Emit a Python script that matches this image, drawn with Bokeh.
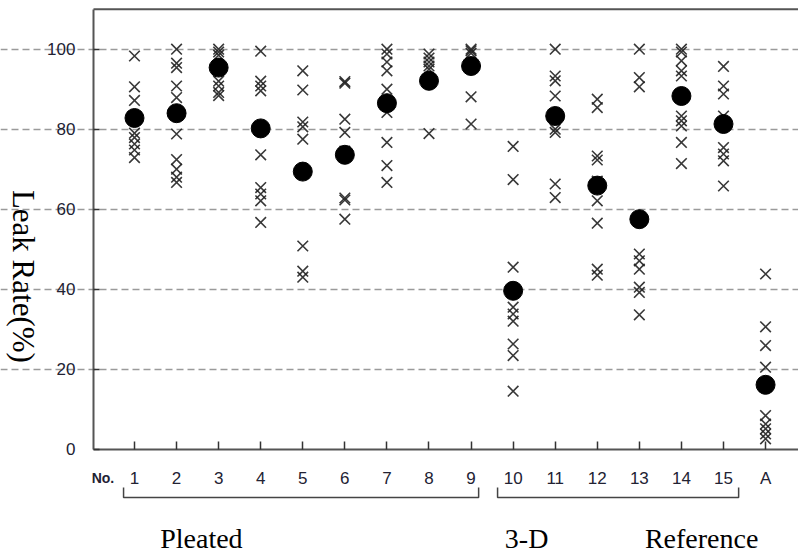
import math
from bokeh.plotting import figure
from bokeh.models import Range1d, LinearAxis, FixedTicker, Grid
from bokeh.core.properties import value
from bokeh.embed import file_html
from bokeh.resources import INLINE

# ---- data ----
tick_labels = ["1", "2", "3", "4", "5", "6", "7", "8", "9",
               "10", "11", "12", "13", "14", "15", "A"]
s1 = [98.3, 90.6, 87.2, 79.0, 77.9, 76.3, 74.8, 72.9]
s2 = [100.0, 96.5, 95.4, 90.8, 87.9, 78.8, 72.4, 70.0, 68.0, 66.7]
s3 = [100.0, 99.3, 98.5, 95.4, 92.0, 90.8, 89.2, 88.4]
s4 = [99.5, 92.0, 90.8, 89.6, 73.6, 65.4, 63.8, 62.1, 56.7]
s5 = [94.6, 89.8, 81.8, 80.6, 77.5, 50.8, 44.5, 43.0]
s6 = [91.9, 91.5, 82.5, 79.2, 74.5, 62.8, 62.3, 57.5]
s7 = [100.0, 98.8, 96.8, 94.6, 90.0, 84.2, 76.7, 70.9, 66.7]
s8 = [98.8, 97.8, 96.8, 95.8, 95.0, 92.0, 78.9]
s9 = [100.0, 99.6, 99.0, 96.5, 95.6, 88.1, 81.3]
s10 = [75.7, 67.4, 45.5, 35.5, 33.8, 32.0, 26.3, 23.4, 14.5]
s11 = [100.0, 93.3, 92.1, 88.3, 80.0, 79.2, 66.3, 62.9]
s12 = [87.5, 85.4, 73.3, 72.3, 67.0, 62.1, 56.5, 45.0, 43.5]
s13 = [100.0, 92.9, 90.6, 48.8, 47.1, 45.0, 40.5, 39.2, 33.6]
s14 = [100.0, 99.3, 97.1, 94.6, 93.3, 83.3, 82.1, 80.8, 76.7, 71.4]
s15 = [95.7, 90.8, 88.8, 83.3, 75.4, 73.8, 72.1, 65.8]
sA = [43.8, 30.6, 25.9, 20.5, 8.4, 6.3, 5.1, 3.8, 2.6]
means = [82.8, 84.0, 95.4, 80.2, 69.4, 73.6, 86.5, 92.1, 95.8,
         39.6, 83.3, 65.9, 57.5, 88.3, 81.3, 16.1]
samples = [s1, s2, s3, s4, s5, s6, s7, s8, s9, s10, s11, s12, s13, s14, s15, sA]
y_ticks = [0, 20, 40, 60, 80, 100]
group_names = ["Pleated", "3-D", "Reference"]

# ---- layout constants ----
W, H = 798, 552
X0, X1 = -2.185, 16.783
Y0, Y1 = -25.825, 112.175
AXIS_X = 0.025

positions = list(range(1, len(tick_labels) + 1))
cx, cy = [], []
for pos, vals in zip(positions, samples):
    cx += [pos] * len(vals)
    cy += vals

p = figure(width=W, height=H, output_backend="svg", toolbar_location=None,
           x_range=Range1d(X0, X1), y_range=Range1d(Y0, Y1),
           x_axis_type=None, y_axis_type=None)
p.min_border = 0
p.outline_line_color = None
p.background_fill_color = "white"
p.border_fill_color = "white"
p.xgrid.visible = False
p.ygrid.visible = False

grid = Grid(dimension=1, ticker=FixedTicker(ticks=y_ticks[1:]),
            grid_line_color="#9a9a9a", grid_line_width=1.5,
            grid_line_dash="7 4", bounds=(AXIS_X, X1))
p.add_layout(grid)

# top frame line
p.line(x=[AXIS_X, X1], y=[110, 110], line_color="#555555", line_width=2)

font_tick = value("Liberation Sans")
yax = LinearAxis(ticker=FixedTicker(ticks=y_ticks), fixed_location=AXIS_X,
                 bounds=(0, 110))
yax.axis_line_color = "#555555"
yax.axis_line_width = 2
yax.major_tick_in = 6
yax.major_tick_out = 0
yax.major_tick_line_color = "#333333"
yax.major_tick_line_width = 1.5
yax.minor_tick_line_color = None
yax.major_label_standoff = 18
yax.major_label_text_font = "Liberation Sans"
yax.major_label_text_font_size = "17px"
yax.major_label_text_color = "#222233"
p.add_layout(yax, "left")

xax = LinearAxis(ticker=FixedTicker(ticks=positions), fixed_location=0,
                 bounds=(AXIS_X, X1))
xax.major_label_overrides = {pos: lab for pos, lab in zip(positions, tick_labels)}
xax.axis_line_color = "#555555"
xax.axis_line_width = 2
xax.major_tick_in = 8
xax.major_tick_out = 0
xax.major_tick_line_color = "#333333"
xax.major_tick_line_width = 1.5
xax.minor_tick_line_color = None
xax.major_label_standoff = 20
xax.major_label_text_font = "Liberation Sans"
xax.major_label_text_font_size = "17px"
xax.major_label_text_color = "#222233"
p.add_layout(xax, "below")

# data marks
p.scatter(x=cx, y=cy, marker="x", size=15, line_color="#222222",
          line_width=1.6, line_alpha=0.9)
p.scatter(x=positions, y=means, marker="circle", size=19,
          fill_color="black", line_color="black")

# "No." label
p.text(x=[0.25], y=[-7.3], text=["No."], text_font=font_tick,
       text_font_size="14px", text_font_style="bold", text_color="#222233",
       text_align="center", text_baseline="middle")

# group brackets
br_x = [[0.74, 0.74, 9.18, 9.18], [9.63, 9.63, 15.36, 15.36]]
br_y = [[-9.6, -12.1, -12.1, -9.6], [-9.6, -12.1, -12.1, -9.6]]
p.multi_line(xs=br_x, ys=br_y, line_color="#444444", line_width=1.5)

p.text(x=[2.59, 10.32, 14.48], y=[-22.2, -22.2, -22.2], text=group_names,
       text_font=value("Liberation Serif"), text_font_size="28px",
       text_color="black", text_align="center", text_baseline="middle")

# y axis title
p.text(x=[-1.646], y=[43.2], text=["Leak Rate(%)"],
       text_font=value("Liberation Serif"), text_font_size="31px",
       text_color="black", text_align="center", text_baseline="middle",
       angle=-math.pi / 2)

open("out.html", "w").write(file_html(p, INLINE))
